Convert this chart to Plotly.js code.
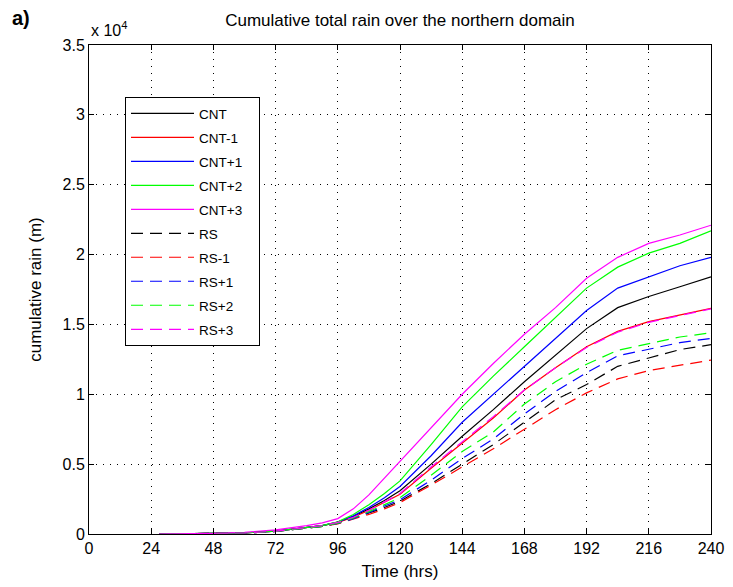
<!DOCTYPE html>
<html>
<head>
<meta charset="utf-8">
<script src="https://cdn.plot.ly/plotly-3.0.1.min.js"></script>
<style>
html,body{margin:0;padding:0;background:#fff;}
#chart{width:733px;height:587px;}
</style>
</head>
<body>
<div id="chart"></div>
<script>
// Time (hrs)
const hours = [27,36,48,60,72,84,90,96,102,108,114,120,132,144,156,168,180,192,204,216,228,240];
// cumulative rain, units of 10^4 m
const cnt   = [0,0.001,0.003,0.008,0.02,0.045,0.06,0.085,0.125,0.18,0.24,0.31,0.50,0.70,0.89,1.09,1.28,1.47,1.62,1.70,1.77,1.84];
const cntM1 = [0,0.001,0.003,0.008,0.02,0.045,0.06,0.082,0.12,0.17,0.225,0.285,0.47,0.65,0.83,1.03,1.19,1.34,1.45,1.52,1.57,1.615];
const cntP1 = [0,0.001,0.003,0.008,0.02,0.045,0.06,0.085,0.13,0.19,0.26,0.34,0.56,0.80,1.00,1.20,1.40,1.60,1.76,1.84,1.92,1.98];
const cntP2 = [0,0.001,0.003,0.008,0.02,0.045,0.06,0.087,0.14,0.21,0.29,0.38,0.64,0.91,1.13,1.34,1.55,1.76,1.91,2.01,2.08,2.17];
const cntP3 = [0,0.001,0.004,0.012,0.03,0.06,0.08,0.11,0.18,0.28,0.40,0.52,0.76,1.00,1.22,1.43,1.62,1.83,1.98,2.08,2.14,2.21];
const rs    = [0,0.001,0.003,0.007,0.018,0.04,0.055,0.075,0.11,0.15,0.19,0.235,0.36,0.50,0.64,0.80,0.96,1.07,1.20,1.26,1.32,1.355];
const rsM1  = [0,0.001,0.003,0.007,0.018,0.04,0.055,0.073,0.105,0.14,0.18,0.225,0.35,0.48,0.61,0.75,0.89,1.01,1.11,1.17,1.21,1.245];
const rsP1  = [0,0.001,0.003,0.007,0.018,0.04,0.055,0.075,0.11,0.155,0.20,0.245,0.385,0.54,0.68,0.86,1.02,1.155,1.275,1.32,1.37,1.40];
const rsP2  = [0,0.001,0.003,0.007,0.018,0.04,0.055,0.077,0.115,0.16,0.21,0.26,0.42,0.59,0.73,0.93,1.09,1.215,1.315,1.365,1.41,1.44];
const rsP3  = [0,0.001,0.003,0.008,0.02,0.045,0.06,0.083,0.12,0.17,0.23,0.29,0.48,0.66,0.84,1.03,1.19,1.335,1.445,1.515,1.565,1.612];

const seriesNames = ['CNT','CNT-1','CNT+1','CNT+2','CNT+3','RS','RS-1','RS+1','RS+2','RS+3'];
const seriesData = [cnt,cntM1,cntP1,cntP2,cntP3,rs,rsM1,rsP1,rsP2,rsP3];
const colors = ['#000000','#ff0000','#0000ff','#00ff00','#ff00ff','#000000','#ff0000','#0000ff','#00ff00','#ff00ff'];

const traces = seriesNames.map((n,i)=>({
  x: hours, y: seriesData[i], name: n + '&nbsp;&nbsp;&nbsp;', type:'scatter', mode:'lines',
  legendgroup: 'g'+i,
  line: {color: colors[i], width: 1.2, dash: i<5 ? 'solid' : '12px,7px'}
}));

const F = 'Liberation Sans, Arial, sans-serif';
const L = 89, R = 711, T = 45, B = 534, W = 733, H = 587;
const axisCommon = {
  showline: true, linecolor:'#000', linewidth:1, mirror:'ticks',
  ticks:'inside', ticklen:5, tickcolor:'#000', tickwidth:1,
  showgrid:true, gridcolor:'#000', gridwidth:1, griddash:'1px,6px',
  zeroline:false, tickfont:{family:F, size:16, color:'#000'}
};
const layout = {
  width: W, height: H,
  margin: {l:L, r:W-R, t:T, b:H-B, pad:0},
  paper_bgcolor:'#fff', plot_bgcolor:'#fff',
  font:{family:F, color:'#000'},
  title: {text:'Cumulative total rain over the northern domain', font:{family:F, size:17, color:'#000'},
          x:0.5, xref:'paper', xanchor:'center', y:1-20/H, yref:'container', yanchor:'middle'},
  xaxis: Object.assign({}, axisCommon, {range:[0,240], tickmode:'linear', tick0:0, dtick:24,
          title:{text:'Time (hrs)', font:{family:F, size:17, color:'#000'}, standoff:8}}),
  yaxis: Object.assign({}, axisCommon, {range:[0,3.5], tickmode:'linear', tick0:0, dtick:0.5,
          title:{text:'cumulative rain (m)', font:{family:F, size:17, color:'#000'}, standoff:16}}),
  showlegend: true,
  legend: {x:(125-L)/(R-L), y:(B-97)/(B-T), xanchor:'left', yanchor:'top',
           bgcolor:'#fff', bordercolor:'#000', borderwidth:1,
           font:{family:F, size:13.5, color:'#000'}, traceorder:'grouped', tracegroupgap:3.45,
           itemwidth:63},
  annotations: [
    {text:'<b>a)</b>', xref:'paper', yref:'paper', x:(10-L)/(R-L), y:(B-18)/(B-T), xanchor:'left', yanchor:'middle',
     showarrow:false, font:{family:F, size:20, color:'#000'}},
    {text:'x 10<sup>4</sup>', xref:'paper', yref:'paper', x:0, y:(B-29)/(B-T), xanchor:'left', yanchor:'middle',
     showarrow:false, font:{family:F, size:16, color:'#000'}}
  ]
};
Plotly.newPlot('chart', traces, layout, {displayModeBar:false, staticPlot:true});
</script>
</body>
</html>
